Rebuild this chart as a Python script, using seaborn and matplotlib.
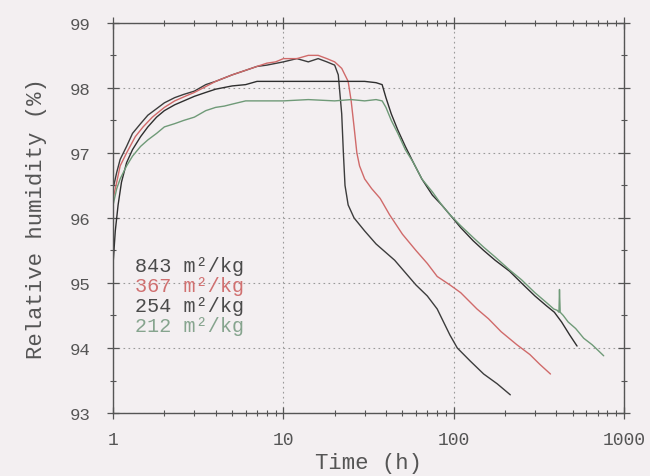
import numpy as np
import pandas as pd
import matplotlib
matplotlib.use("Agg")
import matplotlib.pyplot as plt
import seaborn as sns
from matplotlib.ticker import LogLocator, MultipleLocator, NullFormatter

# ---- data ----
labels = ["843 m²/kg", "367 m²/kg", "254 m²/kg", "212 m²/kg"]
colors = ["#3c3c3c", "#d06a6a", "#2e2e2e", "#6f9a78"]

x_843 = [1.0, 1.05, 1.1, 1.2, 1.3, 1.45, 1.6, 1.8, 2.0, 2.3, 2.6, 3.0, 3.5, 4.0, 5.0, 6.0,
         7.0, 8.0, 10, 12, 14, 16, 18, 20, 21, 22, 22.5, 23, 24, 26, 30, 35, 45, 60, 70, 80,
         95, 105, 125, 150, 180, 215]
y_843 = [96.45, 96.7, 96.9, 97.1, 97.3, 97.45, 97.58, 97.68, 97.77, 97.85, 97.9, 97.95, 98.05,
         98.1, 98.2, 98.27, 98.33, 98.35, 98.4, 98.45, 98.4, 98.45, 98.4, 98.35, 98.2, 97.6,
         97.0, 96.5, 96.2, 96.0, 95.8, 95.6, 95.35, 94.97, 94.8, 94.6, 94.2, 94.0, 93.8,
         93.6, 93.45, 93.28]

x_367 = [1.0, 1.05, 1.1, 1.2, 1.35, 1.5, 1.7, 2.0, 2.3, 2.7, 3.0, 3.5, 4.0, 5.0, 6.0, 7.0,
         8.0, 9.0, 10, 12, 14, 16, 18, 20, 22, 24, 25, 26, 27, 28, 30, 33, 37, 42, 50, 60,
         70, 80, 95, 110, 137, 160, 190, 235, 280, 320, 370]
y_367 = [96.3, 96.55, 96.8, 97.0, 97.25, 97.4, 97.55, 97.7, 97.8, 97.88, 97.93, 98.02, 98.1,
         98.2, 98.27, 98.33, 98.38, 98.4, 98.45, 98.45, 98.5, 98.5, 98.45, 98.4, 98.3, 98.1,
         97.8, 97.4, 97.0, 96.8, 96.6, 96.45, 96.3, 96.05, 95.75, 95.5, 95.3, 95.1, 94.97,
         94.85, 94.6, 94.45, 94.25, 94.05, 93.9, 93.75, 93.6]

x_254 = [1.0, 1.03, 1.07, 1.12, 1.2, 1.3, 1.45, 1.6, 1.8, 2.0, 2.3, 2.6, 3.0, 3.5, 4.0, 5.0,
         6.0, 7.0, 8.0, 10, 13, 16, 20, 25, 30, 35, 38, 40, 43, 47, 52, 58, 65, 75, 85, 95,
         110, 130, 150, 175, 213, 250, 300, 350, 390, 430, 480, 530]
y_254 = [95.3, 95.8, 96.2, 96.55, 96.85, 97.05, 97.25, 97.4, 97.55, 97.65, 97.74, 97.8, 97.87,
         97.93, 97.98, 98.03, 98.05, 98.1, 98.1, 98.1, 98.1, 98.1, 98.1, 98.1, 98.1, 98.08,
         98.05, 97.85, 97.6, 97.35, 97.1, 96.85, 96.6, 96.35, 96.2, 96.05, 95.85, 95.65,
         95.5, 95.35, 95.18, 95.0, 94.8, 94.65, 94.55, 94.4, 94.2, 94.03]

x_212 = [1.0, 1.05, 1.1, 1.2, 1.3, 1.45, 1.6, 1.8, 2.0, 2.3, 2.6, 3.0, 3.5, 4.0, 4.5, 5.0,
         6.0, 8.0, 10, 14, 20, 25, 30, 35, 38, 40, 43, 47, 52, 58, 65, 75, 85, 95, 110, 130,
         150, 175, 213, 250, 300, 350, 387, 405, 415, 418, 422, 440, 470, 520, 580, 650,
         700, 760]
y_212 = [96.2, 96.45, 96.6, 96.8, 96.95, 97.1, 97.2, 97.3, 97.4, 97.45, 97.5, 97.55, 97.65,
         97.7, 97.72, 97.75, 97.8, 97.8, 97.8, 97.82, 97.8, 97.82, 97.8, 97.82, 97.8, 97.7,
         97.5, 97.3, 97.05, 96.85, 96.6, 96.4, 96.2, 96.05, 95.88, 95.7, 95.55, 95.4, 95.2,
         95.05, 94.85, 94.7, 94.6, 94.58, 94.55, 94.9, 94.55, 94.5, 94.4, 94.3, 94.15,
         94.05, 93.97, 93.88]

xs = [x_843, x_367, x_254, x_212]
ys = [y_843, y_367, y_254, y_212]

df = pd.concat([pd.DataFrame({"Time": x, "RH": y, "sample": lab})
                for x, y, lab in zip(xs, ys, labels)], ignore_index=True)

# ---- plot ----
sns.set_theme(style="ticks")
plt.rcParams["font.family"] = ["Liberation Mono", "DejaVu Sans"]
bg = "#f3eff1"
fig = plt.figure(figsize=(6.5, 4.77), dpi=100, facecolor=bg)
ax = fig.add_axes([0.174, 0.132, 0.786, 0.818])
ax.set_facecolor(bg)

sns.lineplot(data=df, x="Time", y="RH", hue="sample", palette=dict(zip(labels, colors)),
             hue_order=labels, sort=False, estimator=None, linewidth=1.0, legend=False, ax=ax)

ax.set_xscale("log")
ax.set_xlim(1, 1000)
ax.set_ylim(93, 99)
ax.set_xticks([1, 10, 100, 1000])
ax.set_xticklabels(["1", "10", "100", "1000"])
ax.xaxis.set_minor_locator(LogLocator(base=10, subs=np.arange(2, 10)))
ax.xaxis.set_minor_formatter(NullFormatter())
ax.yaxis.set_major_locator(MultipleLocator(1))
ax.yaxis.set_minor_locator(MultipleLocator(0.5))

ax.tick_params(which="both", direction="inout", top=True, right=True,
               colors="#555555", labelcolor="#555555")
ax.tick_params(which="major", length=8, width=0.9)
ax.tick_params(which="minor", length=4, width=0.8)
ax.tick_params(axis="y", which="major", labelsize=12.5, pad=12)
ax.tick_params(axis="x", which="major", labelsize=13, pad=9)
for s in ax.spines.values():
    s.set_color("#555555")
    s.set_linewidth(1.0)

ax.grid(True, which="major", axis="both", color="#9a9a9a", linestyle=(0, (1.5, 3)),
        linewidth=0.8)

ax.set_xlabel("Time (h)", fontsize=16, color="#555555", labelpad=3)
ax.set_ylabel("Relative humidity (%)", fontsize=16, color="#555555", labelpad=17)

handles = [plt.Line2D([], [], color=c, linewidth=0) for c in colors]
leg = ax.legend(handles, labels, loc="upper left", bbox_to_anchor=(0.043, 0.403),
                frameon=False, handlelength=0, handletextpad=0, fontsize=14.5,
                labelspacing=0.05, borderpad=0, borderaxespad=0)
for t, c in zip(leg.get_texts(), ["#4a4a4a", "#d07070", "#4a4a4a", "#86a48e"]):
    t.set_color(c)

fig.savefig("out.png", dpi=100, facecolor=bg)
